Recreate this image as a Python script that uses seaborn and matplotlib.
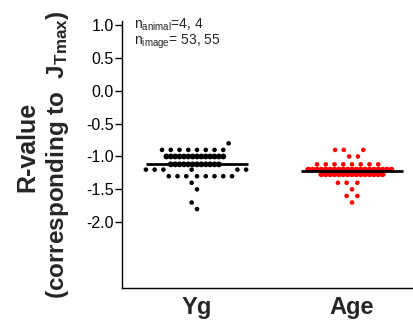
import numpy as np
import pandas as pd
import matplotlib
matplotlib.use("Agg")
import matplotlib.pyplot as plt
import seaborn as sns

# ---------------- data ----------------
groups = ["Yg", "Age"]
yg_values = ([-0.80] + [-0.90] * 8 + [-1.00] * 14 + [-1.12] * 12 + [-1.20] * 6 +
             [-1.30] * 8 + [-1.40, -1.50, -1.70, -1.80])
age_values = ([-0.90] * 3 + [-1.00] * 2 + [-1.12] * 8 + [-1.20] * 20 + [-1.27] * 15 +
              [-1.40] * 3 + [-1.50] + [-1.60] * 2 + [-1.70])
ytick_values = [-2.0, -1.5, -1.0, -0.5, 0.0, 0.5, 1.0]
ytick_labels = ["-2.0", "-1.5", "-1.0", "-0.5", "0.0", "0.5", "1.0"]
n_animal = "4, 4"
n_image = "53, 55"
colors = {"Yg": "#000000", "Age": "#ff0000"}

df = pd.DataFrame({
    "group": ["Yg"] * len(yg_values) + ["Age"] * len(age_values),
    "value": yg_values + age_values,
})
# rows holding many points get packed tightly (GraphPad-like compression)
counts = df.groupby(["group", "value"])["value"].transform("size")
df["dense"] = counts >= 12

# ---------------- style ----------------
sns.set_theme(style="ticks")
plt.rcParams["font.family"] = ["Liberation Sans", "DejaVu Sans"]
plt.rcParams["axes.unicode_minus"] = False
plt.rcParams["mathtext.fontset"] = "custom"
plt.rcParams["mathtext.rm"] = "Liberation Sans"
plt.rcParams["mathtext.bf"] = "Liberation Sans:bold"
plt.rcParams["mathtext.it"] = "Liberation Sans:italic"

fig = plt.figure(figsize=(4.14, 3.22), dpi=100)
ax = fig.add_axes([122 / 414, 34 / 322, 292 / 414, 267 / 322])

LAYOUT_SPARSE = 6.0
LAYOUT_DENSE = 3.0
sns.swarmplot(data=df[~df["dense"]], x="group", y="value", hue="group", order=groups,
              hue_order=groups, palette=colors, size=LAYOUT_SPARSE, linewidth=0,
              legend=False, ax=ax)
sns.swarmplot(data=df[df["dense"]], x="group", y="value", hue="group", order=groups,
              hue_order=groups, palette=colors, size=LAYOUT_DENSE, linewidth=0,
              legend=False, ax=ax)
dot_colls = list(ax.collections)
n_sparse = 2

sns.pointplot(data=df, x="group", y="value", order=groups, estimator="mean",
              errorbar=None, color="black", markers="_", linestyles="none",
              markersize=73, markeredgewidth=2.0, zorder=10, ax=ax)

ax.set_xlim(-0.484, 1.40)
ax.set_ylim(-3.0, 1.06)
ax.set_yticks(ytick_values)
ax.set_yticklabels(ytick_labels)
ax.tick_params(axis="y", labelsize=11.5, length=5, width=1.0, pad=1, colors="black")
ax.tick_params(axis="x", length=0, labelsize=17, pad=6)
for lbl in ax.get_xticklabels():
    lbl.set_fontweight("bold")
for s in ["top", "right"]:
    ax.spines[s].set_visible(False)
for s in ["left", "bottom"]:
    ax.spines[s].set_linewidth(1.0)
    ax.spines[s].set_color("black")
ax.set_xlabel("")
ax.set_ylabel("")

fig.text(27 / 414, 1 - 147 / 322, "R-value", rotation=90, ha="center", va="center",
         fontsize=18, fontweight="bold")
fig.text(58 / 414, 1 - 155 / 322, r"(corresponding to  $\mathbf{J}_{\mathbf{Tmax}}$)",
         rotation=90, ha="center", va="center", fontsize=17.5, fontweight="bold")

ax.text(0.040, 0.972, r"n$_{\mathrm{animal}}$=" + n_animal, transform=ax.transAxes,
        fontsize=10, va="baseline", ha="left")
ax.text(0.040, 0.912, r"n$_{\mathrm{image}}$= " + n_image, transform=ax.transAxes,
        fontsize=10, va="baseline", ha="left")

# lay out swarms, then freeze positions and draw dots at final size
fig.canvas.draw()
for i, coll in enumerate(dot_colls):
    if "draw" in coll.__dict__:
        del coll.draw
    d = 3.3 if i < n_sparse else 4.2
    coll.set_sizes([d ** 2])

fig.savefig("out.png", dpi=100)
